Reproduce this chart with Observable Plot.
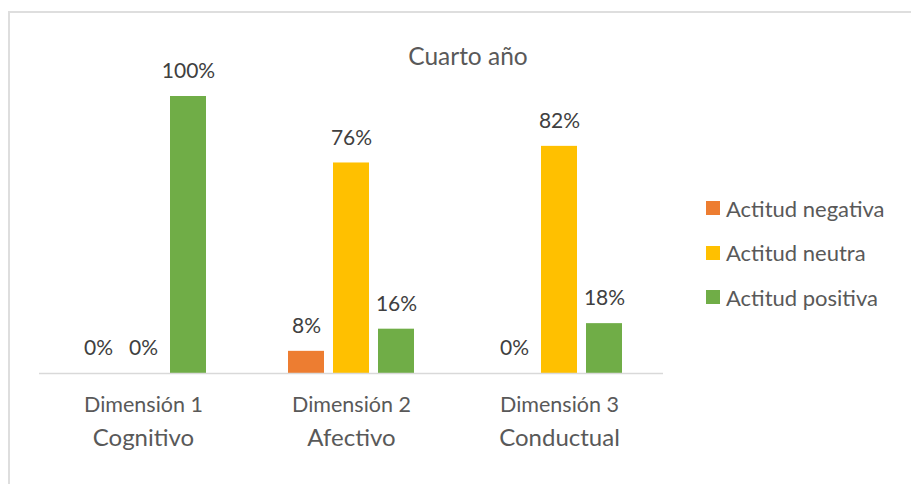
<!DOCTYPE html>
<html>
<head>
<meta charset="utf-8">
<script src="https://cdn.jsdelivr.net/npm/d3@7"></script>
<script src="https://cdn.jsdelivr.net/npm/@observablehq/plot@0.6"></script>
<style>
  html, body { margin: 0; padding: 0; background: #fff; overflow: hidden; }
  #wrap { position: relative; width: 911px; height: 484px; font-family: Lato, "Noto Sans", sans-serif; }
  #frame { position: absolute; left: 8px; top: 11px; width: 1000px; height: 600px; border: 2px solid #dedede; box-sizing: border-box; }
  #chart { position: absolute; left: 0; top: 0; }
  #title { position: absolute; left: 0; width: 936px; top: 40px; text-align: center; font-size: 24.5px; color: #595959; line-height: 32px; }
  #legend { position: absolute; left: 706px; top: 192px; color: #595959; font-size: 22px; }
  .item { display: flex; align-items: center; height: 32px; margin-bottom: 12.5px; white-space: nowrap; }
  .sw { width: 14px; height: 14px; margin-right: 6px; flex: none; }
</style>
</head>
<body>
<div id="wrap">
  <div id="frame"></div>
  <div id="chart"></div>
  <div id="title"></div>
  <div id="legend"></div>
</div>
<script>
const dimensions = ["Dimensión 1", "Dimensión 2", "Dimensión 3"];
const subtitles = ["Cognitivo", "Afectivo", "Conductual"];
const series = ["Actitud negativa", "Actitud neutra", "Actitud positiva"];
const colors = ["#ED7D31", "#FFC000", "#70AD47"];
const negativa = [0, 8, 0];
const neutra = [0, 76, 82];
const positiva = [100, 16, 18];
const title = "Cuarto año";

const valuesBySeries = [negativa, neutra, positiva];
const data = [];
dimensions.forEach((dim, i) => {
  series.forEach((s, j) => data.push({dim, series: s, value: valuesBySeries[j][i]}));
});
const cats = dimensions.map((d, i) => ({dim: d, sub: subtitles[i]}));

const chart = Plot.plot({
  width: 911,
  height: 484,
  marginLeft: 38,
  marginRight: 247,
  marginTop: 96,
  marginBottom: 111,
  style: {fontFamily: "Lato, 'Noto Sans', sans-serif", background: "transparent"},
  fx: {domain: dimensions, padding: 0, axis: null},
  x: {domain: series, paddingInner: 0.196, paddingOuter: 0.866, axis: null},
  y: {domain: [0, 100], axis: null},
  color: {domain: series, range: colors},
  marks: [
    Plot.barY(data, {fx: "dim", x: "series", y: "value", fill: "series"}),
    Plot.ruleY([0], {stroke: "#d9d9d9", strokeWidth: 1.5}),
    Plot.text(data, {fx: "dim", x: "series", y: "value", text: d => d.value + "%", dy: -25, fill: "#404040", fontSize: 21}),
    Plot.text(cats, {fx: "dim", frameAnchor: "bottom", text: "dim", dy: 38, fill: "#595959", fontSize: 21.5}),
    Plot.text(cats, {fx: "dim", frameAnchor: "bottom", text: "sub", dy: 72, fill: "#595959", fontSize: 24})
  ]
});
document.getElementById("chart").appendChild(chart);
document.getElementById("title").textContent = title;
const legend = document.getElementById("legend");
series.forEach((s, i) => {
  const item = document.createElement("div");
  item.className = "item";
  item.innerHTML = `<span class="sw" style="background:${colors[i]}"></span><span>${s}</span>`;
  legend.appendChild(item);
});
</script>
</body>
</html>
